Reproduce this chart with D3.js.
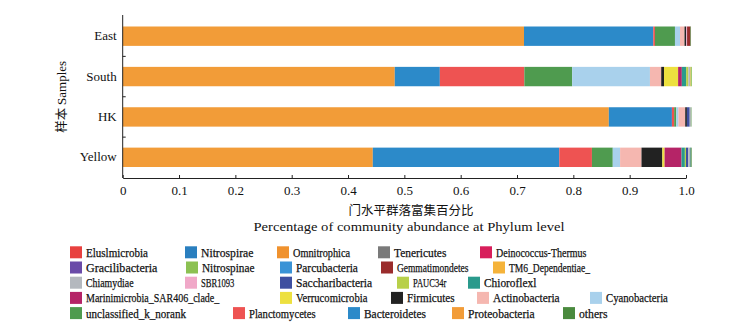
<!DOCTYPE html>
<html>
<head>
<meta charset="utf-8">
<script src="https://cdn.jsdelivr.net/npm/d3@7"></script>
<style>
  body { margin: 0; background: #fff; }
  text { fill: #111; }
</style>
</head>
<body>
<div id="chart"></div>
<script>
// samples, top to bottom
const samples = ["East", "South", "HK", "Yellow"];

// phyla in stacking order (left to right), values per sample: East, South, HK, Yellow
const phyla = [
  "Proteobacteria", "Bacteroidetes", "Planctomycetes", "unclassified_k_norank",
  "Cyanobacteria", "Actinobacteria", "Firmicutes", "Verrucomicrobia",
  "Marinimicrobia_SAR406_clade_", "Chioroflexl", "PAUC34r", "Saccharibacteria",
  "SBR1093", "Chiamydiae", "TM6_Dependentiae_", "Gemmatimondetes",
  "Parcubacteria", "Nitrospinae", "Gracilibacteria", "Deinococcus-Thermus",
  "Tenericutes", "Omnitrophica", "Nitrospirae", "Eluslmicrobia", "others"
];
const proteobacteria   = [0.7124, 0.483, 0.863, 0.444];
const bacteroidetes    = [0.2295, 0.080, 0.112, 0.331];
const planctomycetes   = [0.003, 0.150, 0.004, 0.058];
const unclassified     = [0.0355, 0.085, 0.0036, 0.037];
const cyanobacteria    = [0.009, 0.138, 0.004, 0.013];
const actinobacteria   = [0.008, 0.020, 0.012, 0.038];
const firmicutes       = [0.003, 0.005, 0.003, 0.037];
const verrucomicrobia  = [0, 0.025, 0, 0.004];
const marinimicrobia   = [0, 0.0066, 0, 0.030];
const chioroflexl      = [0, 0.0077, 0, 0.006];
const pauc34r          = [0, 0.004, 0, 0.002];
const saccharibacteria = [0, 0, 0.005, 0.004];
const sbr1093          = [0.0015, 0, 0, 0];
const chiamydiae       = [0, 0.003, 0.002, 0.003];
const tm6              = [0, 0.001, 0, 0];
const gemmatimondetes  = [0.006, 0, 0, 0];
const parcubacteria    = [0, 0, 0, 0];
const nitrospinae      = [0, 0.002, 0, 0];
const gracilibacteria  = [0, 0, 0, 0];
const deinococcus      = [0, 0, 0, 0];
const tenericutes      = [0, 0, 0, 0];
const omnitrophica     = [0, 0, 0, 0];
const nitrospirae      = [0, 0, 0, 0.001];
const eluslmicrobia    = [0, 0, 0, 0];
const others           = [0.001, 0, 0.001, 0.002];

const series = [
  proteobacteria, bacteroidetes, planctomycetes, unclassified, cyanobacteria,
  actinobacteria, firmicutes, verrucomicrobia, marinimicrobia, chioroflexl,
  pauc34r, saccharibacteria, sbr1093, chiamydiae, tm6, gemmatimondetes,
  parcubacteria, nitrospinae, gracilibacteria, deinococcus, tenericutes,
  omnitrophica, nitrospirae, eluslmicrobia, others
];

const colors = {
  "Eluslmicrobia": "#e8413f", "Nitrospirae": "#2a7fbf", "Omnitrophica": "#f0922e",
  "Tenericutes": "#7a7a7a", "Deinococcus-Thermus": "#d81e5b", "Gracilibacteria": "#6a4ba8",
  "Nitrospinae": "#8cc152", "Parcubacteria": "#3a93d6", "Gemmatimondetes": "#9a2c2c",
  "TM6_Dependentiae_": "#f5b33a", "Chiamydiae": "#b4b8be", "SBR1093": "#f0a8c8",
  "Saccharibacteria": "#3e4fa0", "PAUC34r": "#b8d04a", "Chioroflexl": "#2a9a8c",
  "Marinimicrobia_SAR406_clade_": "#b52467", "Verrucomicrobia": "#ede03f",
  "Firmicutes": "#222222", "Actinobacteria": "#f5b7b0", "Cyanobacteria": "#a9d1ec",
  "unclassified_k_norank": "#4f9b4f", "Planctomycetes": "#ee5352", "Bacteroidetes": "#2c8ac9",
  "Proteobacteria": "#f29c38", "others": "#4a8a3e"
};

// legend rows as printed
const legendRows = [
  ["Eluslmicrobia", "Nitrospirae", "Omnitrophica", "Tenericutes", "Deinococcus-Thermus"],
  ["Gracilibacteria", "Nitrospinae", "Parcubacteria", "Gemmatimondetes", "TM6_Dependentiae_"],
  ["Chiamydiae", "SBR1093", "Saccharibacteria", "PAUC34r", "Chioroflexl"],
  ["Marinimicrobia_SAR406_clade_", "Verrucomicrobia", "Firmicutes", "Actinobacteria", "Cyanobacteria"],
  ["unclassified_k_norank", "Planctomycetes", "Bacteroidetes", "Proteobacteria", "others"]
];
// legend swatch left edges per row (layout)
const legendX = [
  [70, 185, 277, 378, 480],
  [70, 186, 280, 381, 493],
  [70, 185, 280, 397, 468],
  [70, 280, 391, 477, 590],
  [70, 233, 348, 452, 563]
];

const width = 731, height = 329;
const svg = d3.select("#chart").append("svg")
  .attr("width", width).attr("height", height);

const x = d3.scaleLinear().domain([0, 1]).range([122.7, 686]);
const y = d3.scaleBand().domain(samples).range([16, 177.5])
  .paddingInner(0.52).paddingOuter(0.26);

// table rows for stacking
const table = samples.map((s, i) => {
  const row = { sample: s };
  phyla.forEach((p, j) => { row[p] = series[j][i]; });
  return row;
});
const stacked = d3.stack().keys(phyla)(table);

svg.append("g")
  .selectAll("g")
  .data(stacked)
  .join("g")
    .attr("fill", d => colors[d.key])
    .selectAll("rect")
    .data(d => d)
    .join("rect")
      .attr("x", d => x(d[0]))
      .attr("y", d => y(d.data.sample))
      .attr("width", d => Math.max(0, x(d[1]) - x(d[0])))
      .attr("height", y.bandwidth());

const serifFont = "'Liberation Serif', 'DejaVu Serif', serif";
const cjkFont = "'Noto Sans CJK SC', sans-serif";

// X axis
const xAxis = svg.append("g")
  .attr("transform", `translate(0,178)`)
  .call(d3.axisBottom(x)
    .tickValues(d3.range(0, 1.01, 0.1))
    .tickSizeInner(-3).tickSizeOuter(0).tickPadding(8)
    .tickFormat(d => d === 0 ? "0" : d3.format(".1f")(d)));
xAxis.select(".domain").attr("stroke", "#222");
xAxis.selectAll(".tick line").attr("stroke", "#222");
xAxis.selectAll("text")
  .style("font-family", serifFont).style("font-size", "13px")
  .attr("fill", "#111");

// Y axis
const yAxis = svg.append("g")
  .attr("transform", `translate(${x(0)},0)`)
  .call(d3.axisLeft(y).tickSize(0).tickPadding(6));
yAxis.select(".domain").attr("d", `M0,15V178`).attr("stroke", "#222");
yAxis.selectAll("text")
  .style("font-family", serifFont).style("font-size", "13px")
  .attr("fill", "#111");

// boundary ticks between samples
const boundaries = samples.slice(1).map(s => y(s) - y.step() * y.paddingInner() / 2);
svg.append("g")
  .selectAll("line")
  .data(boundaries)
  .join("line")
    .attr("x1", x(0)).attr("x2", x(0) + 3)
    .attr("y1", d => d).attr("y2", d => d)
    .attr("stroke", "#222");

// Y title
svg.append("text")
  .attr("transform", `translate(66,${(16 + 177.5) / 2}) rotate(-90)`)
  .attr("text-anchor", "middle")
  .style("font-family", cjkFont)
  .style("font-size", "12.5px")
  .text("样本 ")
  .append("tspan")
  .style("font-family", serifFont)
  .style("font-size", "13px")
  .text("Samples");

// X titles
svg.append("text")
  .attr("x", 411).attr("y", 215)
  .attr("text-anchor", "middle")
  .style("font-family", cjkFont)
  .style("font-size", "12.5px")
  .text("门水平群落富集百分比");

svg.append("text")
  .attr("x", 409).attr("y", 231)
  .attr("text-anchor", "middle")
  .attr("textLength", 311)
  .attr("lengthAdjust", "spacingAndGlyphs")
  .style("font-family", serifFont)
  .style("font-size", "13px")
  .text("Percentage of community abundance at Phylum level");

// Legend
const legend = svg.append("g");
legendRows.forEach((row, r) => {
  const cy = 252.3 + r * 15.2;
  row.forEach((name, c) => {
    const lx = legendX[r][c];
    legend.append("rect")
      .attr("x", lx).attr("y", cy - 6)
      .attr("width", 12).attr("height", 12)
      .attr("fill", colors[name]);
    legend.append("text")
      .attr("x", lx + 16).attr("y", cy + 4.5)
      .attr("textLength", name.length * 4.76)
      .attr("lengthAdjust", "spacingAndGlyphs")
      .attr("stroke", "#111").attr("stroke-width", 0.25)
      .style("font-family", serifFont)
      .style("font-size", "13px")
      .text(name);
  });
});
</script>
</body>
</html>
